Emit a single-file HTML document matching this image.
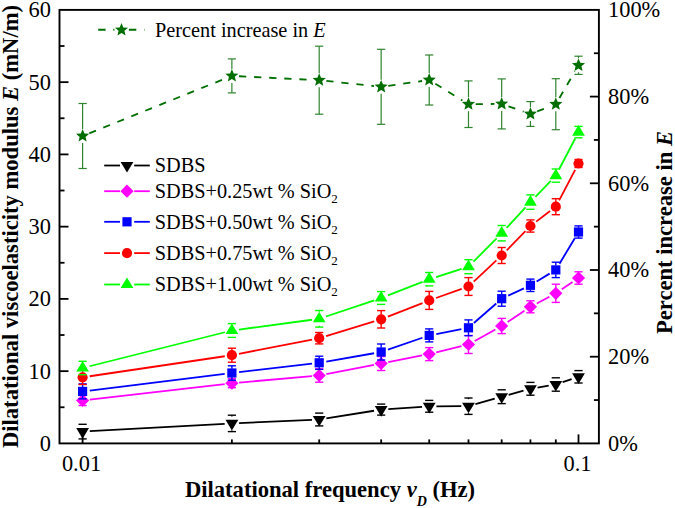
<!DOCTYPE html>
<html><head><meta charset="utf-8"><style>
html,body{margin:0;padding:0;background:#fff;}
body{width:675px;height:508px;overflow:hidden;position:relative;}
svg{position:absolute;left:0;top:0;}
.t{font-family:"Liberation Serif",serif;font-size:20.3px;fill:#000;}
.sub{font-size:13px;}
.tl{font-family:"Liberation Serif",serif;font-size:22.4px;fill:#000;}
.ax{font-family:"Liberation Serif",serif;font-size:22.6px;font-weight:bold;fill:#000;}
.axsub{font-size:14px;}
</style></head><body>
<svg width="675" height="508" viewBox="0 0 675 508">
<rect x="59.5" y="9.9" width="539.4" height="433.5" fill="none" stroke="#000" stroke-width="1.9"/>
<line x1="59.5" y1="407.27" x2="64.5" y2="407.27" stroke="#000" stroke-width="1.8"/>
<line x1="59.5" y1="371.15" x2="68.5" y2="371.15" stroke="#000" stroke-width="1.8"/>
<line x1="59.5" y1="335.02" x2="64.5" y2="335.02" stroke="#000" stroke-width="1.8"/>
<line x1="59.5" y1="298.9" x2="68.5" y2="298.9" stroke="#000" stroke-width="1.8"/>
<line x1="59.5" y1="262.77" x2="64.5" y2="262.77" stroke="#000" stroke-width="1.8"/>
<line x1="59.5" y1="226.65" x2="68.5" y2="226.65" stroke="#000" stroke-width="1.8"/>
<line x1="59.5" y1="190.52" x2="64.5" y2="190.52" stroke="#000" stroke-width="1.8"/>
<line x1="59.5" y1="154.4" x2="68.5" y2="154.4" stroke="#000" stroke-width="1.8"/>
<line x1="59.5" y1="118.27" x2="64.5" y2="118.27" stroke="#000" stroke-width="1.8"/>
<line x1="59.5" y1="82.15" x2="68.5" y2="82.15" stroke="#000" stroke-width="1.8"/>
<line x1="59.5" y1="46.02" x2="64.5" y2="46.02" stroke="#000" stroke-width="1.8"/>
<line x1="598.9" y1="400.05" x2="593.9" y2="400.05" stroke="#000" stroke-width="1.8"/>
<line x1="598.9" y1="356.7" x2="589.9" y2="356.7" stroke="#000" stroke-width="1.8"/>
<line x1="598.9" y1="313.35" x2="593.9" y2="313.35" stroke="#000" stroke-width="1.8"/>
<line x1="598.9" y1="270" x2="589.9" y2="270" stroke="#000" stroke-width="1.8"/>
<line x1="598.9" y1="226.65" x2="593.9" y2="226.65" stroke="#000" stroke-width="1.8"/>
<line x1="598.9" y1="183.3" x2="589.9" y2="183.3" stroke="#000" stroke-width="1.8"/>
<line x1="598.9" y1="139.95" x2="593.9" y2="139.95" stroke="#000" stroke-width="1.8"/>
<line x1="598.9" y1="96.6" x2="589.9" y2="96.6" stroke="#000" stroke-width="1.8"/>
<line x1="598.9" y1="53.25" x2="593.9" y2="53.25" stroke="#000" stroke-width="1.8"/>
<line x1="82.6" y1="443.4" x2="82.6" y2="434.4" stroke="#000" stroke-width="1.8"/>
<line x1="231.88" y1="443.4" x2="231.88" y2="439.4" stroke="#000" stroke-width="1.8"/>
<line x1="319.2" y1="443.4" x2="319.2" y2="439.4" stroke="#000" stroke-width="1.8"/>
<line x1="381.16" y1="443.4" x2="381.16" y2="439.4" stroke="#000" stroke-width="1.8"/>
<line x1="429.22" y1="443.4" x2="429.22" y2="439.4" stroke="#000" stroke-width="1.8"/>
<line x1="468.49" y1="443.4" x2="468.49" y2="439.4" stroke="#000" stroke-width="1.8"/>
<line x1="501.68" y1="443.4" x2="501.68" y2="439.4" stroke="#000" stroke-width="1.8"/>
<line x1="530.44" y1="443.4" x2="530.44" y2="439.4" stroke="#000" stroke-width="1.8"/>
<line x1="555.81" y1="443.4" x2="555.81" y2="439.4" stroke="#000" stroke-width="1.8"/>
<line x1="578.5" y1="443.4" x2="578.5" y2="434.4" stroke="#000" stroke-width="1.8"/>
<line x1="89.79" y1="431.21" x2="224.69" y2="423.79" stroke="#000000" stroke-width="1.8"/>
<line x1="239.07" y1="423.08" x2="312.01" y2="419.82" stroke="#000000" stroke-width="1.8"/>
<line x1="326.31" y1="418.36" x2="374.05" y2="410.74" stroke="#000000" stroke-width="1.8"/>
<line x1="388.34" y1="409.11" x2="422.04" y2="406.79" stroke="#000000" stroke-width="1.8"/>
<line x1="436.42" y1="406.28" x2="461.29" y2="406.22" stroke="#000000" stroke-width="1.8"/>
<line x1="475.41" y1="404.22" x2="494.76" y2="398.68" stroke="#000000" stroke-width="1.8"/>
<line x1="508.63" y1="394.79" x2="523.5" y2="390.71" stroke="#000000" stroke-width="1.8"/>
<line x1="537.54" y1="387.6" x2="548.71" y2="385.7" stroke="#000000" stroke-width="1.8"/>
<line x1="562.63" y1="382.19" x2="571.68" y2="379.11" stroke="#000000" stroke-width="1.8"/>
<line x1="82.6" y1="424.3" x2="82.6" y2="424.6" stroke="#000000" stroke-width="1.4"/>
<line x1="82.6" y1="438.6" x2="82.6" y2="438.9" stroke="#000000" stroke-width="1.4"/>
<line x1="78.5" y1="424.3" x2="86.7" y2="424.3" stroke="#000000" stroke-width="1.4"/>
<line x1="78.5" y1="438.9" x2="86.7" y2="438.9" stroke="#000000" stroke-width="1.4"/>
<line x1="231.88" y1="415.2" x2="231.88" y2="416.4" stroke="#000000" stroke-width="1.4"/>
<line x1="231.88" y1="430.4" x2="231.88" y2="431.6" stroke="#000000" stroke-width="1.4"/>
<line x1="227.78" y1="415.2" x2="235.98" y2="415.2" stroke="#000000" stroke-width="1.4"/>
<line x1="227.78" y1="431.6" x2="235.98" y2="431.6" stroke="#000000" stroke-width="1.4"/>
<line x1="315.1" y1="413.1" x2="323.3" y2="413.1" stroke="#000000" stroke-width="1.4"/>
<line x1="315.1" y1="425.9" x2="323.3" y2="425.9" stroke="#000000" stroke-width="1.4"/>
<line x1="377.06" y1="404.1" x2="385.26" y2="404.1" stroke="#000000" stroke-width="1.4"/>
<line x1="377.06" y1="415.1" x2="385.26" y2="415.1" stroke="#000000" stroke-width="1.4"/>
<line x1="425.12" y1="400.4" x2="433.32" y2="400.4" stroke="#000000" stroke-width="1.4"/>
<line x1="425.12" y1="412.2" x2="433.32" y2="412.2" stroke="#000000" stroke-width="1.4"/>
<line x1="468.49" y1="398" x2="468.49" y2="399.2" stroke="#000000" stroke-width="1.4"/>
<line x1="468.49" y1="413.2" x2="468.49" y2="414.4" stroke="#000000" stroke-width="1.4"/>
<line x1="464.39" y1="398" x2="472.59" y2="398" stroke="#000000" stroke-width="1.4"/>
<line x1="464.39" y1="414.4" x2="472.59" y2="414.4" stroke="#000000" stroke-width="1.4"/>
<line x1="497.58" y1="389.8" x2="505.78" y2="389.8" stroke="#000000" stroke-width="1.4"/>
<line x1="497.58" y1="403.6" x2="505.78" y2="403.6" stroke="#000000" stroke-width="1.4"/>
<line x1="526.34" y1="382.4" x2="534.54" y2="382.4" stroke="#000000" stroke-width="1.4"/>
<line x1="526.34" y1="395.2" x2="534.54" y2="395.2" stroke="#000000" stroke-width="1.4"/>
<line x1="551.71" y1="377.8" x2="559.91" y2="377.8" stroke="#000000" stroke-width="1.4"/>
<line x1="551.71" y1="391.2" x2="559.91" y2="391.2" stroke="#000000" stroke-width="1.4"/>
<line x1="574.4" y1="370.6" x2="582.6" y2="370.6" stroke="#000000" stroke-width="1.4"/>
<line x1="574.4" y1="383" x2="582.6" y2="383" stroke="#000000" stroke-width="1.4"/>
<polygon points="76.2,428.05 89,428.05 82.6,438.7" fill="#000000"/>
<polygon points="225.48,419.85 238.28,419.85 231.88,430.5" fill="#000000"/>
<polygon points="312.8,415.95 325.6,415.95 319.2,426.6" fill="#000000"/>
<polygon points="374.76,406.05 387.56,406.05 381.16,416.7" fill="#000000"/>
<polygon points="422.82,402.75 435.62,402.75 429.22,413.4" fill="#000000"/>
<polygon points="462.09,402.65 474.89,402.65 468.49,413.3" fill="#000000"/>
<polygon points="495.28,393.15 508.08,393.15 501.68,403.8" fill="#000000"/>
<polygon points="524.04,385.25 536.84,385.25 530.44,395.9" fill="#000000"/>
<polygon points="549.41,380.95 562.21,380.95 555.81,391.6" fill="#000000"/>
<polygon points="572.1,373.25 584.9,373.25 578.5,383.9" fill="#000000"/>
<line x1="89.75" y1="399.67" x2="224.73" y2="384.03" stroke="#ff00ff" stroke-width="1.8"/>
<line x1="239.05" y1="382.57" x2="312.03" y2="376.13" stroke="#ff00ff" stroke-width="1.8"/>
<line x1="326.27" y1="374.13" x2="374.09" y2="364.87" stroke="#ff00ff" stroke-width="1.8"/>
<line x1="388.23" y1="362.12" x2="422.15" y2="355.48" stroke="#ff00ff" stroke-width="1.8"/>
<line x1="436.21" y1="352.39" x2="461.49" y2="346.21" stroke="#ff00ff" stroke-width="1.8"/>
<line x1="474.77" y1="341" x2="495.39" y2="329.5" stroke="#ff00ff" stroke-width="1.8"/>
<line x1="507.67" y1="322" x2="524.45" y2="310.8" stroke="#ff00ff" stroke-width="1.8"/>
<line x1="536.8" y1="303.42" x2="549.45" y2="296.68" stroke="#ff00ff" stroke-width="1.8"/>
<line x1="561.78" y1="289.27" x2="572.53" y2="282.03" stroke="#ff00ff" stroke-width="1.8"/>
<line x1="78.5" y1="395.5" x2="86.7" y2="395.5" stroke="#ff00ff" stroke-width="1.4"/>
<line x1="78.5" y1="405.5" x2="86.7" y2="405.5" stroke="#ff00ff" stroke-width="1.4"/>
<line x1="227.78" y1="378.7" x2="235.98" y2="378.7" stroke="#ff00ff" stroke-width="1.4"/>
<line x1="227.78" y1="387.7" x2="235.98" y2="387.7" stroke="#ff00ff" stroke-width="1.4"/>
<line x1="319.2" y1="368.8" x2="319.2" y2="369.7" stroke="#ff00ff" stroke-width="1.4"/>
<line x1="319.2" y1="381.3" x2="319.2" y2="382.2" stroke="#ff00ff" stroke-width="1.4"/>
<line x1="315.1" y1="368.8" x2="323.3" y2="368.8" stroke="#ff00ff" stroke-width="1.4"/>
<line x1="315.1" y1="382.2" x2="323.3" y2="382.2" stroke="#ff00ff" stroke-width="1.4"/>
<line x1="381.16" y1="356.5" x2="381.16" y2="357.7" stroke="#ff00ff" stroke-width="1.4"/>
<line x1="381.16" y1="369.3" x2="381.16" y2="370.5" stroke="#ff00ff" stroke-width="1.4"/>
<line x1="377.06" y1="356.5" x2="385.26" y2="356.5" stroke="#ff00ff" stroke-width="1.4"/>
<line x1="377.06" y1="370.5" x2="385.26" y2="370.5" stroke="#ff00ff" stroke-width="1.4"/>
<line x1="429.22" y1="347.6" x2="429.22" y2="348.3" stroke="#ff00ff" stroke-width="1.4"/>
<line x1="429.22" y1="359.9" x2="429.22" y2="360.6" stroke="#ff00ff" stroke-width="1.4"/>
<line x1="425.12" y1="347.6" x2="433.32" y2="347.6" stroke="#ff00ff" stroke-width="1.4"/>
<line x1="425.12" y1="360.6" x2="433.32" y2="360.6" stroke="#ff00ff" stroke-width="1.4"/>
<line x1="468.49" y1="335.5" x2="468.49" y2="338.7" stroke="#ff00ff" stroke-width="1.4"/>
<line x1="468.49" y1="350.3" x2="468.49" y2="353.5" stroke="#ff00ff" stroke-width="1.4"/>
<line x1="464.39" y1="335.5" x2="472.59" y2="335.5" stroke="#ff00ff" stroke-width="1.4"/>
<line x1="464.39" y1="353.5" x2="472.59" y2="353.5" stroke="#ff00ff" stroke-width="1.4"/>
<line x1="501.68" y1="318.4" x2="501.68" y2="320.2" stroke="#ff00ff" stroke-width="1.4"/>
<line x1="501.68" y1="331.8" x2="501.68" y2="333.6" stroke="#ff00ff" stroke-width="1.4"/>
<line x1="497.58" y1="318.4" x2="505.78" y2="318.4" stroke="#ff00ff" stroke-width="1.4"/>
<line x1="497.58" y1="333.6" x2="505.78" y2="333.6" stroke="#ff00ff" stroke-width="1.4"/>
<line x1="530.44" y1="300.8" x2="530.44" y2="301" stroke="#ff00ff" stroke-width="1.4"/>
<line x1="530.44" y1="312.6" x2="530.44" y2="312.8" stroke="#ff00ff" stroke-width="1.4"/>
<line x1="526.34" y1="300.8" x2="534.54" y2="300.8" stroke="#ff00ff" stroke-width="1.4"/>
<line x1="526.34" y1="312.8" x2="534.54" y2="312.8" stroke="#ff00ff" stroke-width="1.4"/>
<line x1="555.81" y1="284.2" x2="555.81" y2="287.5" stroke="#ff00ff" stroke-width="1.4"/>
<line x1="555.81" y1="299.1" x2="555.81" y2="302.4" stroke="#ff00ff" stroke-width="1.4"/>
<line x1="551.71" y1="284.2" x2="559.91" y2="284.2" stroke="#ff00ff" stroke-width="1.4"/>
<line x1="551.71" y1="302.4" x2="559.91" y2="302.4" stroke="#ff00ff" stroke-width="1.4"/>
<line x1="578.5" y1="271.8" x2="578.5" y2="272.2" stroke="#ff00ff" stroke-width="1.4"/>
<line x1="578.5" y1="283.8" x2="578.5" y2="284.2" stroke="#ff00ff" stroke-width="1.4"/>
<line x1="574.4" y1="271.8" x2="582.6" y2="271.8" stroke="#ff00ff" stroke-width="1.4"/>
<line x1="574.4" y1="284.2" x2="582.6" y2="284.2" stroke="#ff00ff" stroke-width="1.4"/>
<polygon points="82.6,393.9 89.2,400.5 82.6,407.1 76,400.5" fill="#ff00ff"/>
<polygon points="231.88,376.6 238.48,383.2 231.88,389.8 225.28,383.2" fill="#ff00ff"/>
<polygon points="319.2,368.9 325.8,375.5 319.2,382.1 312.6,375.5" fill="#ff00ff"/>
<polygon points="381.16,356.9 387.76,363.5 381.16,370.1 374.56,363.5" fill="#ff00ff"/>
<polygon points="429.22,347.5 435.82,354.1 429.22,360.7 422.62,354.1" fill="#ff00ff"/>
<polygon points="468.49,337.9 475.09,344.5 468.49,351.1 461.89,344.5" fill="#ff00ff"/>
<polygon points="501.68,319.4 508.28,326 501.68,332.6 495.08,326" fill="#ff00ff"/>
<polygon points="530.44,300.2 537.04,306.8 530.44,313.4 523.84,306.8" fill="#ff00ff"/>
<polygon points="555.81,286.7 562.41,293.3 555.81,299.9 549.21,293.3" fill="#ff00ff"/>
<polygon points="578.5,271.4 585.1,278 578.5,284.6 571.9,278" fill="#ff00ff"/>
<line x1="89.75" y1="390.52" x2="224.73" y2="373.88" stroke="#0000ff" stroke-width="1.8"/>
<line x1="239.03" y1="372.16" x2="312.05" y2="363.64" stroke="#0000ff" stroke-width="1.8"/>
<line x1="326.3" y1="361.56" x2="374.07" y2="353.24" stroke="#0000ff" stroke-width="1.8"/>
<line x1="387.97" y1="349.65" x2="422.41" y2="337.75" stroke="#0000ff" stroke-width="1.8"/>
<line x1="436.29" y1="334.03" x2="461.42" y2="329.17" stroke="#0000ff" stroke-width="1.8"/>
<line x1="473.9" y1="323.05" x2="496.27" y2="303.45" stroke="#0000ff" stroke-width="1.8"/>
<line x1="508.21" y1="295.66" x2="523.92" y2="288.34" stroke="#0000ff" stroke-width="1.8"/>
<line x1="536.6" y1="281.56" x2="549.65" y2="273.64" stroke="#0000ff" stroke-width="1.8"/>
<line x1="559.51" y1="263.72" x2="574.8" y2="238.18" stroke="#0000ff" stroke-width="1.8"/>
<line x1="82.6" y1="383.9" x2="82.6" y2="387.1" stroke="#0000ff" stroke-width="1.4"/>
<line x1="82.6" y1="395.7" x2="82.6" y2="398.9" stroke="#0000ff" stroke-width="1.4"/>
<line x1="78.5" y1="383.9" x2="86.7" y2="383.9" stroke="#0000ff" stroke-width="1.4"/>
<line x1="78.5" y1="398.9" x2="86.7" y2="398.9" stroke="#0000ff" stroke-width="1.4"/>
<line x1="231.88" y1="365.8" x2="231.88" y2="368.7" stroke="#0000ff" stroke-width="1.4"/>
<line x1="231.88" y1="377.3" x2="231.88" y2="380.2" stroke="#0000ff" stroke-width="1.4"/>
<line x1="227.78" y1="365.8" x2="235.98" y2="365.8" stroke="#0000ff" stroke-width="1.4"/>
<line x1="227.78" y1="380.2" x2="235.98" y2="380.2" stroke="#0000ff" stroke-width="1.4"/>
<line x1="319.2" y1="356.2" x2="319.2" y2="358.5" stroke="#0000ff" stroke-width="1.4"/>
<line x1="319.2" y1="367.1" x2="319.2" y2="369.4" stroke="#0000ff" stroke-width="1.4"/>
<line x1="315.1" y1="356.2" x2="323.3" y2="356.2" stroke="#0000ff" stroke-width="1.4"/>
<line x1="315.1" y1="369.4" x2="323.3" y2="369.4" stroke="#0000ff" stroke-width="1.4"/>
<line x1="381.16" y1="344" x2="381.16" y2="347.7" stroke="#0000ff" stroke-width="1.4"/>
<line x1="381.16" y1="356.3" x2="381.16" y2="360" stroke="#0000ff" stroke-width="1.4"/>
<line x1="377.06" y1="344" x2="385.26" y2="344" stroke="#0000ff" stroke-width="1.4"/>
<line x1="377.06" y1="360" x2="385.26" y2="360" stroke="#0000ff" stroke-width="1.4"/>
<line x1="429.22" y1="328.9" x2="429.22" y2="331.1" stroke="#0000ff" stroke-width="1.4"/>
<line x1="429.22" y1="339.7" x2="429.22" y2="341.9" stroke="#0000ff" stroke-width="1.4"/>
<line x1="425.12" y1="328.9" x2="433.32" y2="328.9" stroke="#0000ff" stroke-width="1.4"/>
<line x1="425.12" y1="341.9" x2="433.32" y2="341.9" stroke="#0000ff" stroke-width="1.4"/>
<line x1="468.49" y1="319.9" x2="468.49" y2="323.5" stroke="#0000ff" stroke-width="1.4"/>
<line x1="468.49" y1="332.1" x2="468.49" y2="335.7" stroke="#0000ff" stroke-width="1.4"/>
<line x1="464.39" y1="319.9" x2="472.59" y2="319.9" stroke="#0000ff" stroke-width="1.4"/>
<line x1="464.39" y1="335.7" x2="472.59" y2="335.7" stroke="#0000ff" stroke-width="1.4"/>
<line x1="501.68" y1="291.2" x2="501.68" y2="294.4" stroke="#0000ff" stroke-width="1.4"/>
<line x1="501.68" y1="303" x2="501.68" y2="306.2" stroke="#0000ff" stroke-width="1.4"/>
<line x1="497.58" y1="291.2" x2="505.78" y2="291.2" stroke="#0000ff" stroke-width="1.4"/>
<line x1="497.58" y1="306.2" x2="505.78" y2="306.2" stroke="#0000ff" stroke-width="1.4"/>
<line x1="530.44" y1="279.1" x2="530.44" y2="281" stroke="#0000ff" stroke-width="1.4"/>
<line x1="530.44" y1="289.6" x2="530.44" y2="291.5" stroke="#0000ff" stroke-width="1.4"/>
<line x1="526.34" y1="279.1" x2="534.54" y2="279.1" stroke="#0000ff" stroke-width="1.4"/>
<line x1="526.34" y1="291.5" x2="534.54" y2="291.5" stroke="#0000ff" stroke-width="1.4"/>
<line x1="555.81" y1="262.2" x2="555.81" y2="265.6" stroke="#0000ff" stroke-width="1.4"/>
<line x1="555.81" y1="274.2" x2="555.81" y2="277.6" stroke="#0000ff" stroke-width="1.4"/>
<line x1="551.71" y1="262.2" x2="559.91" y2="262.2" stroke="#0000ff" stroke-width="1.4"/>
<line x1="551.71" y1="277.6" x2="559.91" y2="277.6" stroke="#0000ff" stroke-width="1.4"/>
<line x1="578.5" y1="225.9" x2="578.5" y2="227.7" stroke="#0000ff" stroke-width="1.4"/>
<line x1="578.5" y1="236.3" x2="578.5" y2="238.1" stroke="#0000ff" stroke-width="1.4"/>
<line x1="574.4" y1="225.9" x2="582.6" y2="225.9" stroke="#0000ff" stroke-width="1.4"/>
<line x1="574.4" y1="238.1" x2="582.6" y2="238.1" stroke="#0000ff" stroke-width="1.4"/>
<rect x="78" y="386.8" width="9.2" height="9.2" fill="#0000ff"/>
<rect x="227.28" y="368.4" width="9.2" height="9.2" fill="#0000ff"/>
<rect x="314.6" y="358.2" width="9.2" height="9.2" fill="#0000ff"/>
<rect x="376.56" y="347.4" width="9.2" height="9.2" fill="#0000ff"/>
<rect x="424.62" y="330.8" width="9.2" height="9.2" fill="#0000ff"/>
<rect x="463.89" y="323.2" width="9.2" height="9.2" fill="#0000ff"/>
<rect x="497.08" y="294.1" width="9.2" height="9.2" fill="#0000ff"/>
<rect x="525.84" y="280.7" width="9.2" height="9.2" fill="#0000ff"/>
<rect x="551.21" y="265.3" width="9.2" height="9.2" fill="#0000ff"/>
<rect x="573.9" y="227.4" width="9.2" height="9.2" fill="#0000ff"/>
<line x1="89.72" y1="376.25" x2="224.76" y2="356.25" stroke="#ff0000" stroke-width="1.8"/>
<line x1="238.95" y1="353.82" x2="312.14" y2="339.58" stroke="#ff0000" stroke-width="1.8"/>
<line x1="326.09" y1="336.1" x2="374.27" y2="321.4" stroke="#ff0000" stroke-width="1.8"/>
<line x1="387.86" y1="316.66" x2="422.52" y2="303.04" stroke="#ff0000" stroke-width="1.8"/>
<line x1="436.01" y1="298" x2="461.7" y2="288.9" stroke="#ff0000" stroke-width="1.8"/>
<line x1="473.75" y1="281.59" x2="496.42" y2="260.41" stroke="#ff0000" stroke-width="1.8"/>
<line x1="506.71" y1="250.34" x2="525.42" y2="231.16" stroke="#ff0000" stroke-width="1.8"/>
<line x1="536.17" y1="221.64" x2="550.08" y2="211.06" stroke="#ff0000" stroke-width="1.8"/>
<line x1="559.16" y1="200.33" x2="575.15" y2="169.87" stroke="#ff0000" stroke-width="1.8"/>
<line x1="82.6" y1="370.1" x2="82.6" y2="372.8" stroke="#ff0000" stroke-width="1.4"/>
<line x1="82.6" y1="381.8" x2="82.6" y2="384.5" stroke="#ff0000" stroke-width="1.4"/>
<line x1="78.5" y1="370.1" x2="86.7" y2="370.1" stroke="#ff0000" stroke-width="1.4"/>
<line x1="78.5" y1="384.5" x2="86.7" y2="384.5" stroke="#ff0000" stroke-width="1.4"/>
<line x1="231.88" y1="348.2" x2="231.88" y2="350.7" stroke="#ff0000" stroke-width="1.4"/>
<line x1="231.88" y1="359.7" x2="231.88" y2="362.2" stroke="#ff0000" stroke-width="1.4"/>
<line x1="227.78" y1="348.2" x2="235.98" y2="348.2" stroke="#ff0000" stroke-width="1.4"/>
<line x1="227.78" y1="362.2" x2="235.98" y2="362.2" stroke="#ff0000" stroke-width="1.4"/>
<line x1="319.2" y1="332.5" x2="319.2" y2="333.7" stroke="#ff0000" stroke-width="1.4"/>
<line x1="319.2" y1="342.7" x2="319.2" y2="343.9" stroke="#ff0000" stroke-width="1.4"/>
<line x1="315.1" y1="332.5" x2="323.3" y2="332.5" stroke="#ff0000" stroke-width="1.4"/>
<line x1="315.1" y1="343.9" x2="323.3" y2="343.9" stroke="#ff0000" stroke-width="1.4"/>
<line x1="381.16" y1="310.6" x2="381.16" y2="314.8" stroke="#ff0000" stroke-width="1.4"/>
<line x1="381.16" y1="323.8" x2="381.16" y2="328" stroke="#ff0000" stroke-width="1.4"/>
<line x1="377.06" y1="310.6" x2="385.26" y2="310.6" stroke="#ff0000" stroke-width="1.4"/>
<line x1="377.06" y1="328" x2="385.26" y2="328" stroke="#ff0000" stroke-width="1.4"/>
<line x1="429.22" y1="291.4" x2="429.22" y2="295.9" stroke="#ff0000" stroke-width="1.4"/>
<line x1="429.22" y1="304.9" x2="429.22" y2="309.4" stroke="#ff0000" stroke-width="1.4"/>
<line x1="425.12" y1="291.4" x2="433.32" y2="291.4" stroke="#ff0000" stroke-width="1.4"/>
<line x1="425.12" y1="309.4" x2="433.32" y2="309.4" stroke="#ff0000" stroke-width="1.4"/>
<line x1="468.49" y1="277.6" x2="468.49" y2="282" stroke="#ff0000" stroke-width="1.4"/>
<line x1="468.49" y1="291" x2="468.49" y2="295.4" stroke="#ff0000" stroke-width="1.4"/>
<line x1="464.39" y1="277.6" x2="472.59" y2="277.6" stroke="#ff0000" stroke-width="1.4"/>
<line x1="464.39" y1="295.4" x2="472.59" y2="295.4" stroke="#ff0000" stroke-width="1.4"/>
<line x1="501.68" y1="247.5" x2="501.68" y2="251" stroke="#ff0000" stroke-width="1.4"/>
<line x1="501.68" y1="260" x2="501.68" y2="263.5" stroke="#ff0000" stroke-width="1.4"/>
<line x1="497.58" y1="247.5" x2="505.78" y2="247.5" stroke="#ff0000" stroke-width="1.4"/>
<line x1="497.58" y1="263.5" x2="505.78" y2="263.5" stroke="#ff0000" stroke-width="1.4"/>
<line x1="530.44" y1="219.9" x2="530.44" y2="221.5" stroke="#ff0000" stroke-width="1.4"/>
<line x1="530.44" y1="230.5" x2="530.44" y2="232.1" stroke="#ff0000" stroke-width="1.4"/>
<line x1="526.34" y1="219.9" x2="534.54" y2="219.9" stroke="#ff0000" stroke-width="1.4"/>
<line x1="526.34" y1="232.1" x2="534.54" y2="232.1" stroke="#ff0000" stroke-width="1.4"/>
<line x1="555.81" y1="198.7" x2="555.81" y2="202.2" stroke="#ff0000" stroke-width="1.4"/>
<line x1="555.81" y1="211.2" x2="555.81" y2="214.7" stroke="#ff0000" stroke-width="1.4"/>
<line x1="551.71" y1="198.7" x2="559.91" y2="198.7" stroke="#ff0000" stroke-width="1.4"/>
<line x1="551.71" y1="214.7" x2="559.91" y2="214.7" stroke="#ff0000" stroke-width="1.4"/>
<line x1="574.4" y1="159.5" x2="582.6" y2="159.5" stroke="#ff0000" stroke-width="1.4"/>
<line x1="574.4" y1="167.5" x2="582.6" y2="167.5" stroke="#ff0000" stroke-width="1.4"/>
<circle cx="82.6" cy="377.3" r="5.1" fill="#ff0000"/>
<circle cx="231.88" cy="355.2" r="5.1" fill="#ff0000"/>
<circle cx="319.2" cy="338.2" r="5.1" fill="#ff0000"/>
<circle cx="381.16" cy="319.3" r="5.1" fill="#ff0000"/>
<circle cx="429.22" cy="300.4" r="5.1" fill="#ff0000"/>
<circle cx="468.49" cy="286.5" r="5.1" fill="#ff0000"/>
<circle cx="501.68" cy="255.5" r="5.1" fill="#ff0000"/>
<circle cx="530.44" cy="226" r="5.1" fill="#ff0000"/>
<circle cx="555.81" cy="206.7" r="5.1" fill="#ff0000"/>
<circle cx="578.5" cy="163.5" r="5.1" fill="#ff0000"/>
<line x1="89.58" y1="366.25" x2="224.9" y2="332.25" stroke="#00ff00" stroke-width="1.8"/>
<line x1="239.02" y1="329.54" x2="312.07" y2="319.76" stroke="#00ff00" stroke-width="1.8"/>
<line x1="326.03" y1="316.51" x2="374.34" y2="300.29" stroke="#00ff00" stroke-width="1.8"/>
<line x1="387.87" y1="295.38" x2="422.51" y2="281.82" stroke="#00ff00" stroke-width="1.8"/>
<line x1="436.08" y1="277.02" x2="461.62" y2="268.88" stroke="#00ff00" stroke-width="1.8"/>
<line x1="473.55" y1="261.59" x2="496.62" y2="238.31" stroke="#00ff00" stroke-width="1.8"/>
<line x1="506.57" y1="227.91" x2="525.55" y2="207.39" stroke="#00ff00" stroke-width="1.8"/>
<line x1="535.42" y1="196.9" x2="550.83" y2="180.8" stroke="#00ff00" stroke-width="1.8"/>
<line x1="559.14" y1="169.22" x2="575.17" y2="138.48" stroke="#00ff00" stroke-width="1.8"/>
<line x1="78.5" y1="361.3" x2="86.7" y2="361.3" stroke="#00ff00" stroke-width="1.4"/>
<line x1="78.5" y1="374.7" x2="86.7" y2="374.7" stroke="#00ff00" stroke-width="1.4"/>
<line x1="227.78" y1="323.6" x2="235.98" y2="323.6" stroke="#00ff00" stroke-width="1.4"/>
<line x1="227.78" y1="337.4" x2="235.98" y2="337.4" stroke="#00ff00" stroke-width="1.4"/>
<line x1="319.2" y1="310.5" x2="319.2" y2="311.8" stroke="#00ff00" stroke-width="1.4"/>
<line x1="319.2" y1="325.8" x2="319.2" y2="327.1" stroke="#00ff00" stroke-width="1.4"/>
<line x1="315.1" y1="310.5" x2="323.3" y2="310.5" stroke="#00ff00" stroke-width="1.4"/>
<line x1="315.1" y1="327.1" x2="323.3" y2="327.1" stroke="#00ff00" stroke-width="1.4"/>
<line x1="377.06" y1="291.6" x2="385.26" y2="291.6" stroke="#00ff00" stroke-width="1.4"/>
<line x1="377.06" y1="304.4" x2="385.26" y2="304.4" stroke="#00ff00" stroke-width="1.4"/>
<line x1="425.12" y1="272.5" x2="433.32" y2="272.5" stroke="#00ff00" stroke-width="1.4"/>
<line x1="425.12" y1="285.9" x2="433.32" y2="285.9" stroke="#00ff00" stroke-width="1.4"/>
<line x1="464.39" y1="259.7" x2="472.59" y2="259.7" stroke="#00ff00" stroke-width="1.4"/>
<line x1="464.39" y1="273.7" x2="472.59" y2="273.7" stroke="#00ff00" stroke-width="1.4"/>
<line x1="501.68" y1="225.5" x2="501.68" y2="226.2" stroke="#00ff00" stroke-width="1.4"/>
<line x1="501.68" y1="240.2" x2="501.68" y2="240.9" stroke="#00ff00" stroke-width="1.4"/>
<line x1="497.58" y1="225.5" x2="505.78" y2="225.5" stroke="#00ff00" stroke-width="1.4"/>
<line x1="497.58" y1="240.9" x2="505.78" y2="240.9" stroke="#00ff00" stroke-width="1.4"/>
<line x1="530.44" y1="194.9" x2="530.44" y2="195.1" stroke="#00ff00" stroke-width="1.4"/>
<line x1="530.44" y1="209.1" x2="530.44" y2="209.3" stroke="#00ff00" stroke-width="1.4"/>
<line x1="526.34" y1="194.9" x2="534.54" y2="194.9" stroke="#00ff00" stroke-width="1.4"/>
<line x1="526.34" y1="209.3" x2="534.54" y2="209.3" stroke="#00ff00" stroke-width="1.4"/>
<line x1="551.71" y1="169" x2="559.91" y2="169" stroke="#00ff00" stroke-width="1.4"/>
<line x1="551.71" y1="182.2" x2="559.91" y2="182.2" stroke="#00ff00" stroke-width="1.4"/>
<line x1="574.4" y1="126.4" x2="582.6" y2="126.4" stroke="#00ff00" stroke-width="1.4"/>
<line x1="574.4" y1="137.8" x2="582.6" y2="137.8" stroke="#00ff00" stroke-width="1.4"/>
<polygon points="76.2,371.55 89,371.55 82.6,360.9" fill="#00ff00"/>
<polygon points="225.48,334.05 238.28,334.05 231.88,323.4" fill="#00ff00"/>
<polygon points="312.8,322.35 325.6,322.35 319.2,311.7" fill="#00ff00"/>
<polygon points="374.76,301.55 387.56,301.55 381.16,290.9" fill="#00ff00"/>
<polygon points="422.82,282.75 435.62,282.75 429.22,272.1" fill="#00ff00"/>
<polygon points="462.09,270.25 474.89,270.25 468.49,259.6" fill="#00ff00"/>
<polygon points="495.28,236.75 508.08,236.75 501.68,226.1" fill="#00ff00"/>
<polygon points="524.04,205.65 536.84,205.65 530.44,195" fill="#00ff00"/>
<polygon points="549.41,179.15 562.21,179.15 555.81,168.5" fill="#00ff00"/>
<polygon points="572.1,135.65 584.9,135.65 578.5,125" fill="#00ff00"/>
<line x1="89.28" y1="133.31" x2="225.2" y2="78.59" stroke="#006f00" stroke-width="1.8" stroke-dasharray="7.2 7.9"/>
<line x1="239.07" y1="76.25" x2="312.01" y2="79.85" stroke="#006f00" stroke-width="1.8" stroke-dasharray="7.2 7.9"/>
<line x1="326.36" y1="80.96" x2="374" y2="86.04" stroke="#006f00" stroke-width="1.8" stroke-dasharray="7.2 7.9"/>
<line x1="388.29" y1="85.79" x2="422.09" y2="81.01" stroke="#006f00" stroke-width="1.8" stroke-dasharray="7.2 7.9"/>
<line x1="435.35" y1="83.78" x2="462.36" y2="100.42" stroke="#006f00" stroke-width="1.8" stroke-dasharray="7.2 7.9"/>
<line x1="475.68" y1="104.13" x2="494.48" y2="103.97" stroke="#006f00" stroke-width="1.8" stroke-dasharray="7.2 7.9"/>
<line x1="508.48" y1="106.29" x2="523.65" y2="111.61" stroke="#006f00" stroke-width="1.8" stroke-dasharray="7.2 7.9"/>
<line x1="537.16" y1="111.41" x2="549.09" y2="106.79" stroke="#006f00" stroke-width="1.8" stroke-dasharray="7.2 7.9"/>
<line x1="559.44" y1="97.98" x2="574.87" y2="71.52" stroke="#006f00" stroke-width="1.8" stroke-dasharray="7.2 7.9"/>
<line x1="82.6" y1="103.5" x2="82.6" y2="129" stroke="#2f842f" stroke-width="1.2"/>
<line x1="82.6" y1="143" x2="82.6" y2="168.5" stroke="#2f842f" stroke-width="1.2"/>
<line x1="78.5" y1="103.5" x2="86.7" y2="103.5" stroke="#2f842f" stroke-width="1.2"/>
<line x1="78.5" y1="168.5" x2="86.7" y2="168.5" stroke="#2f842f" stroke-width="1.2"/>
<line x1="231.88" y1="58.9" x2="231.88" y2="68.9" stroke="#2f842f" stroke-width="1.2"/>
<line x1="231.88" y1="82.9" x2="231.88" y2="92.9" stroke="#2f842f" stroke-width="1.2"/>
<line x1="227.78" y1="58.9" x2="235.98" y2="58.9" stroke="#2f842f" stroke-width="1.2"/>
<line x1="227.78" y1="92.9" x2="235.98" y2="92.9" stroke="#2f842f" stroke-width="1.2"/>
<line x1="319.2" y1="46.2" x2="319.2" y2="73.2" stroke="#2f842f" stroke-width="1.2"/>
<line x1="319.2" y1="87.2" x2="319.2" y2="114.2" stroke="#2f842f" stroke-width="1.2"/>
<line x1="315.1" y1="46.2" x2="323.3" y2="46.2" stroke="#2f842f" stroke-width="1.2"/>
<line x1="315.1" y1="114.2" x2="323.3" y2="114.2" stroke="#2f842f" stroke-width="1.2"/>
<line x1="381.16" y1="49.3" x2="381.16" y2="79.8" stroke="#2f842f" stroke-width="1.2"/>
<line x1="381.16" y1="93.8" x2="381.16" y2="124.3" stroke="#2f842f" stroke-width="1.2"/>
<line x1="377.06" y1="49.3" x2="385.26" y2="49.3" stroke="#2f842f" stroke-width="1.2"/>
<line x1="377.06" y1="124.3" x2="385.26" y2="124.3" stroke="#2f842f" stroke-width="1.2"/>
<line x1="429.22" y1="55" x2="429.22" y2="73" stroke="#2f842f" stroke-width="1.2"/>
<line x1="429.22" y1="87" x2="429.22" y2="105" stroke="#2f842f" stroke-width="1.2"/>
<line x1="425.12" y1="55" x2="433.32" y2="55" stroke="#2f842f" stroke-width="1.2"/>
<line x1="425.12" y1="105" x2="433.32" y2="105" stroke="#2f842f" stroke-width="1.2"/>
<line x1="468.49" y1="80.9" x2="468.49" y2="97.2" stroke="#2f842f" stroke-width="1.2"/>
<line x1="468.49" y1="111.2" x2="468.49" y2="127.5" stroke="#2f842f" stroke-width="1.2"/>
<line x1="464.39" y1="80.9" x2="472.59" y2="80.9" stroke="#2f842f" stroke-width="1.2"/>
<line x1="464.39" y1="127.5" x2="472.59" y2="127.5" stroke="#2f842f" stroke-width="1.2"/>
<line x1="501.68" y1="78.9" x2="501.68" y2="96.9" stroke="#2f842f" stroke-width="1.2"/>
<line x1="501.68" y1="110.9" x2="501.68" y2="128.9" stroke="#2f842f" stroke-width="1.2"/>
<line x1="497.58" y1="78.9" x2="505.78" y2="78.9" stroke="#2f842f" stroke-width="1.2"/>
<line x1="497.58" y1="128.9" x2="505.78" y2="128.9" stroke="#2f842f" stroke-width="1.2"/>
<line x1="530.44" y1="101.6" x2="530.44" y2="107" stroke="#2f842f" stroke-width="1.2"/>
<line x1="530.44" y1="121" x2="530.44" y2="126.4" stroke="#2f842f" stroke-width="1.2"/>
<line x1="526.34" y1="101.6" x2="534.54" y2="101.6" stroke="#2f842f" stroke-width="1.2"/>
<line x1="526.34" y1="126.4" x2="534.54" y2="126.4" stroke="#2f842f" stroke-width="1.2"/>
<line x1="555.81" y1="78.7" x2="555.81" y2="97.2" stroke="#2f842f" stroke-width="1.2"/>
<line x1="555.81" y1="111.2" x2="555.81" y2="129.7" stroke="#2f842f" stroke-width="1.2"/>
<line x1="551.71" y1="78.7" x2="559.91" y2="78.7" stroke="#2f842f" stroke-width="1.2"/>
<line x1="551.71" y1="129.7" x2="559.91" y2="129.7" stroke="#2f842f" stroke-width="1.2"/>
<line x1="578.5" y1="56.2" x2="578.5" y2="58.3" stroke="#2f842f" stroke-width="1.2"/>
<line x1="578.5" y1="72.3" x2="578.5" y2="74.4" stroke="#2f842f" stroke-width="1.2"/>
<line x1="574.4" y1="56.2" x2="582.6" y2="56.2" stroke="#2f842f" stroke-width="1.2"/>
<line x1="574.4" y1="74.4" x2="582.6" y2="74.4" stroke="#2f842f" stroke-width="1.2"/>
<polygon points="82.6,129.1 84.43,133.49 89.16,133.87 85.55,136.96 86.66,141.58 82.6,139.1 78.54,141.58 79.65,136.96 76.04,133.87 80.77,133.49" fill="#006f00"/>
<polygon points="231.88,69 233.71,73.39 238.44,73.77 234.83,76.86 235.94,81.48 231.88,79.01 227.83,81.48 228.93,76.86 225.32,73.77 230.06,73.39" fill="#006f00"/>
<polygon points="319.2,73.3 321.03,77.69 325.77,78.07 322.16,81.16 323.26,85.78 319.2,83.31 315.15,85.78 316.25,81.16 312.64,78.07 317.38,77.69" fill="#006f00"/>
<polygon points="381.16,79.9 382.99,84.29 387.72,84.67 384.11,87.76 385.22,92.38 381.16,89.91 377.11,92.38 378.21,87.76 374.6,84.67 379.34,84.29" fill="#006f00"/>
<polygon points="429.22,73.1 431.04,77.49 435.78,77.87 432.17,80.96 433.27,85.58 429.22,83.11 425.16,85.58 426.27,80.96 422.66,77.87 427.39,77.49" fill="#006f00"/>
<polygon points="468.49,97.3 470.31,101.69 475.05,102.07 471.44,105.16 472.54,109.78 468.49,107.31 464.43,109.78 465.53,105.16 461.92,102.07 466.66,101.69" fill="#006f00"/>
<polygon points="501.68,97 503.51,101.39 508.25,101.77 504.64,104.86 505.74,109.48 501.68,107.01 497.63,109.48 498.73,104.86 495.12,101.77 499.86,101.39" fill="#006f00"/>
<polygon points="530.44,107.1 532.27,111.49 537,111.87 533.4,114.96 534.5,119.58 530.44,117.11 526.39,119.58 527.49,114.96 523.88,111.87 528.62,111.49" fill="#006f00"/>
<polygon points="555.81,97.3 557.63,101.69 562.37,102.07 558.76,105.16 559.86,109.78 555.81,107.31 551.75,109.78 552.86,105.16 549.25,102.07 553.98,101.69" fill="#006f00"/>
<polygon points="578.5,58.4 580.33,62.79 585.06,63.17 581.45,66.26 582.56,70.88 578.5,68.41 574.44,70.88 575.55,66.26 571.94,63.17 576.67,62.79" fill="#006f00"/>
<line x1="98.2" y1="29.7" x2="114.4" y2="29.7" stroke="#006f00" stroke-width="2" stroke-dasharray="7.4 7.7"/>
<line x1="128.9" y1="29.7" x2="144.4" y2="29.7" stroke="#006f00" stroke-width="2" stroke-dasharray="7.4 7.7"/>
<polygon points="121.5,23 123.33,27.39 128.06,27.77 124.45,30.86 125.56,35.48 121.5,33 117.44,35.48 118.55,30.86 114.94,27.77 119.67,27.39" fill="#006f00"/>
<text x="155" y="36.5" class="t">Percent increase in <tspan font-style="italic">E</tspan></text>
<line x1="104.2" y1="165.5" x2="120" y2="165.5" stroke="#000000" stroke-width="1.8"/>
<line x1="134.2" y1="165.5" x2="149.8" y2="165.5" stroke="#000000" stroke-width="1.8"/>
<polygon points="120.6,161.95 133.4,161.95 127,172.6" fill="#000000"/>
<line x1="104.2" y1="191.2" x2="120" y2="191.2" stroke="#ff00ff" stroke-width="1.8"/>
<line x1="134.2" y1="191.2" x2="149.8" y2="191.2" stroke="#ff00ff" stroke-width="1.8"/>
<polygon points="127,184.6 133.6,191.2 127,197.8 120.4,191.2" fill="#ff00ff"/>
<line x1="104.2" y1="221.8" x2="120" y2="221.8" stroke="#0000ff" stroke-width="1.8"/>
<line x1="134.2" y1="221.8" x2="149.8" y2="221.8" stroke="#0000ff" stroke-width="1.8"/>
<rect x="122.4" y="217.2" width="9.2" height="9.2" fill="#0000ff"/>
<line x1="104.2" y1="253.1" x2="120" y2="253.1" stroke="#ff0000" stroke-width="1.8"/>
<line x1="134.2" y1="253.1" x2="149.8" y2="253.1" stroke="#ff0000" stroke-width="1.8"/>
<circle cx="127" cy="253.1" r="5.1" fill="#ff0000"/>
<line x1="104.2" y1="284.5" x2="120" y2="284.5" stroke="#00ff00" stroke-width="1.8"/>
<line x1="134.2" y1="284.5" x2="149.8" y2="284.5" stroke="#00ff00" stroke-width="1.8"/>
<polygon points="120.6,288.05 133.4,288.05 127,277.4" fill="#00ff00"/>
<text x="154.8" y="172.3" class="t">SDBS</text>
<text x="154.8" y="198" class="t">SDBS+0.25wt % SiO<tspan class="sub" dy="5">2</tspan></text>
<text x="154.8" y="228.6" class="t">SDBS+0.50wt % SiO<tspan class="sub" dy="5">2</tspan></text>
<text x="154.8" y="259.9" class="t">SDBS+0.75wt % SiO<tspan class="sub" dy="5">2</tspan></text>
<text x="154.8" y="291.3" class="t">SDBS+1.00wt % SiO<tspan class="sub" dy="5">2</tspan></text>
<text x="51" y="450.8" class="tl" text-anchor="end">0</text>
<text x="51" y="378.55" class="tl" text-anchor="end">10</text>
<text x="51" y="306.3" class="tl" text-anchor="end">20</text>
<text x="51" y="234.05" class="tl" text-anchor="end">30</text>
<text x="51" y="161.8" class="tl" text-anchor="end">40</text>
<text x="51" y="89.55" class="tl" text-anchor="end">50</text>
<text x="51" y="17.3" class="tl" text-anchor="end">60</text>
<text x="608" y="450.8" class="tl">0%</text>
<text x="608" y="364.1" class="tl">20%</text>
<text x="608" y="277.4" class="tl">40%</text>
<text x="608" y="190.7" class="tl">60%</text>
<text x="608" y="104" class="tl">80%</text>
<text x="608" y="17.3" class="tl">100%</text>
<text x="81.5" y="471" class="tl" text-anchor="middle">0.01</text>
<text x="577.5" y="471" class="tl" text-anchor="middle">0.1</text>
<text x="330" y="496.6" class="ax" text-anchor="middle">Dilatational frequency <tspan font-style="italic">&#957;</tspan><tspan font-style="italic" class="axsub" dy="9">D</tspan><tspan dy="-9"> (Hz)</tspan></text>
<text transform="translate(18.2,226.5) rotate(-90)" class="ax" text-anchor="middle">Dilatational viscoelasticity modulus <tspan font-style="italic">E</tspan> (mN/m)</text>
<text transform="translate(672,232.5) rotate(-90)" class="ax" text-anchor="middle">Percent increase in <tspan font-style="italic">E</tspan></text>
</svg>
</body></html>
